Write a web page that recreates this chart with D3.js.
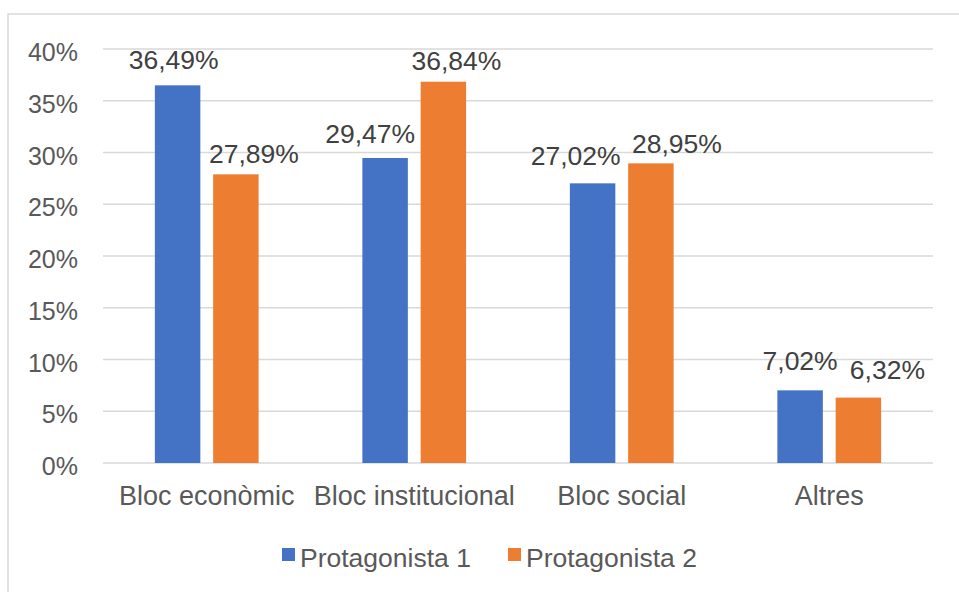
<!DOCTYPE html>
<html>
<head>
<meta charset="utf-8">
<script src="https://cdn.jsdelivr.net/npm/d3@7"></script>
<style>
  body { margin: 0; background: #fff; }
  svg text { font-family: "Liberation Sans", Arial, sans-serif; }
</style>
</head>
<body>
<svg id="chart" width="959" height="592"></svg>
<script>
// data
var categories = ['Bloc econòmic', 'Bloc institucional', 'Bloc social', 'Altres'];
var seriesNames = ['Protagonista 1', 'Protagonista 2'];
var protagonista1 = [36.49, 29.47, 27.02, 7.02];
var protagonista2 = [27.89, 36.84, 28.95, 6.32];
var yTicks = [0, 5, 10, 15, 20, 25, 30, 35, 40];
var colors = ['#4472C4', '#ED7D31'];

// the labels were dragged by hand in the original, small nudges per label [dx, dy]
var labelNudge = [
  [[-4, -16], [-15, -15], [-17, -18], [0, -20]],
  [[18, -11], [13, -12], [26, -10], [29, -19]]
];

var svg = d3.select('#chart');

// outer frame (runs off the right and bottom)
svg.append('rect')
  .attr('x', 8).attr('y', 14)
  .attr('width', 1000).attr('height', 700)
  .attr('fill', 'none')
  .attr('stroke', '#d9d9d9')
  .attr('stroke-width', 1.5);

var x = d3.scaleBand().domain(categories).range([103, 933]);
var x1 = d3.scaleBand().domain(seriesNames)
  .range([x.bandwidth() * 0.25, x.bandwidth() * 0.75])
  .paddingInner(0.22);
var y = d3.scaleLinear().domain([0, 40]).range([463, 49]);

// gridlines
svg.append('g').selectAll('line')
  .data(yTicks)
  .enter().append('line')
  .attr('x1', 103).attr('x2', 933)
  .attr('y1', function(d){ return y(d); })
  .attr('y2', function(d){ return y(d); })
  .attr('stroke', '#d9d9d9')
  .attr('stroke-width', 1.5);

// y tick labels
svg.append('g').selectAll('text')
  .data(yTicks)
  .enter().append('text')
  .attr('x', 78)
  .attr('y', function(d){ return y(d) + 12; })
  .attr('text-anchor', 'end')
  .attr('font-size', '25px')
  .attr('fill', '#595959')
  .text(function(d){ return d + '%'; });

var series = [protagonista1, protagonista2];

series.forEach(function(vals, si) {
  var g = svg.append('g');
  g.selectAll('rect')
    .data(vals)
    .enter().append('rect')
    .attr('x', function(d, i){ return x(categories[i]) + x1(seriesNames[si]); })
    .attr('y', function(d){ return y(d); })
    .attr('width', x1.bandwidth())
    .attr('height', function(d){ return y(0) - y(d); })
    .attr('fill', colors[si]);

  g.selectAll('text')
    .data(vals)
    .enter().append('text')
    .attr('x', function(d, i){ return x(categories[i]) + x1(seriesNames[si]) + x1.bandwidth() / 2 + labelNudge[si][i][0]; })
    .attr('y', function(d, i){ return y(d) + labelNudge[si][i][1]; })
    .attr('text-anchor', 'middle')
    .attr('font-size', '26.5px')
    .attr('fill', '#404040')
    .text(function(d){ return d.toFixed(2).replace('.', ',') + '%'; });
});

// category labels
svg.append('g').selectAll('text')
  .data(categories)
  .enter().append('text')
  .attr('x', function(d){ return x(d) + x.bandwidth() / 2; })
  .attr('y', 505)
  .attr('text-anchor', 'middle')
  .attr('font-size', '27px')
  .attr('fill', '#595959')
  .text(function(d){ return d; });

// legend
var legendX = [282, 508];
var legend = svg.append('g').selectAll('g')
  .data(seriesNames)
  .enter().append('g')
  .attr('transform', function(d, i){ return 'translate(' + legendX[i] + ',548)'; });
legend.append('rect')
  .attr('width', 13).attr('height', 13)
  .attr('fill', function(d, i){ return colors[i]; });
legend.append('text')
  .attr('x', 18).attr('y', 19)
  .attr('font-size', '26.5px')
  .attr('fill', '#595959')
  .text(function(d){ return d; });
</script>
</body>
</html>
